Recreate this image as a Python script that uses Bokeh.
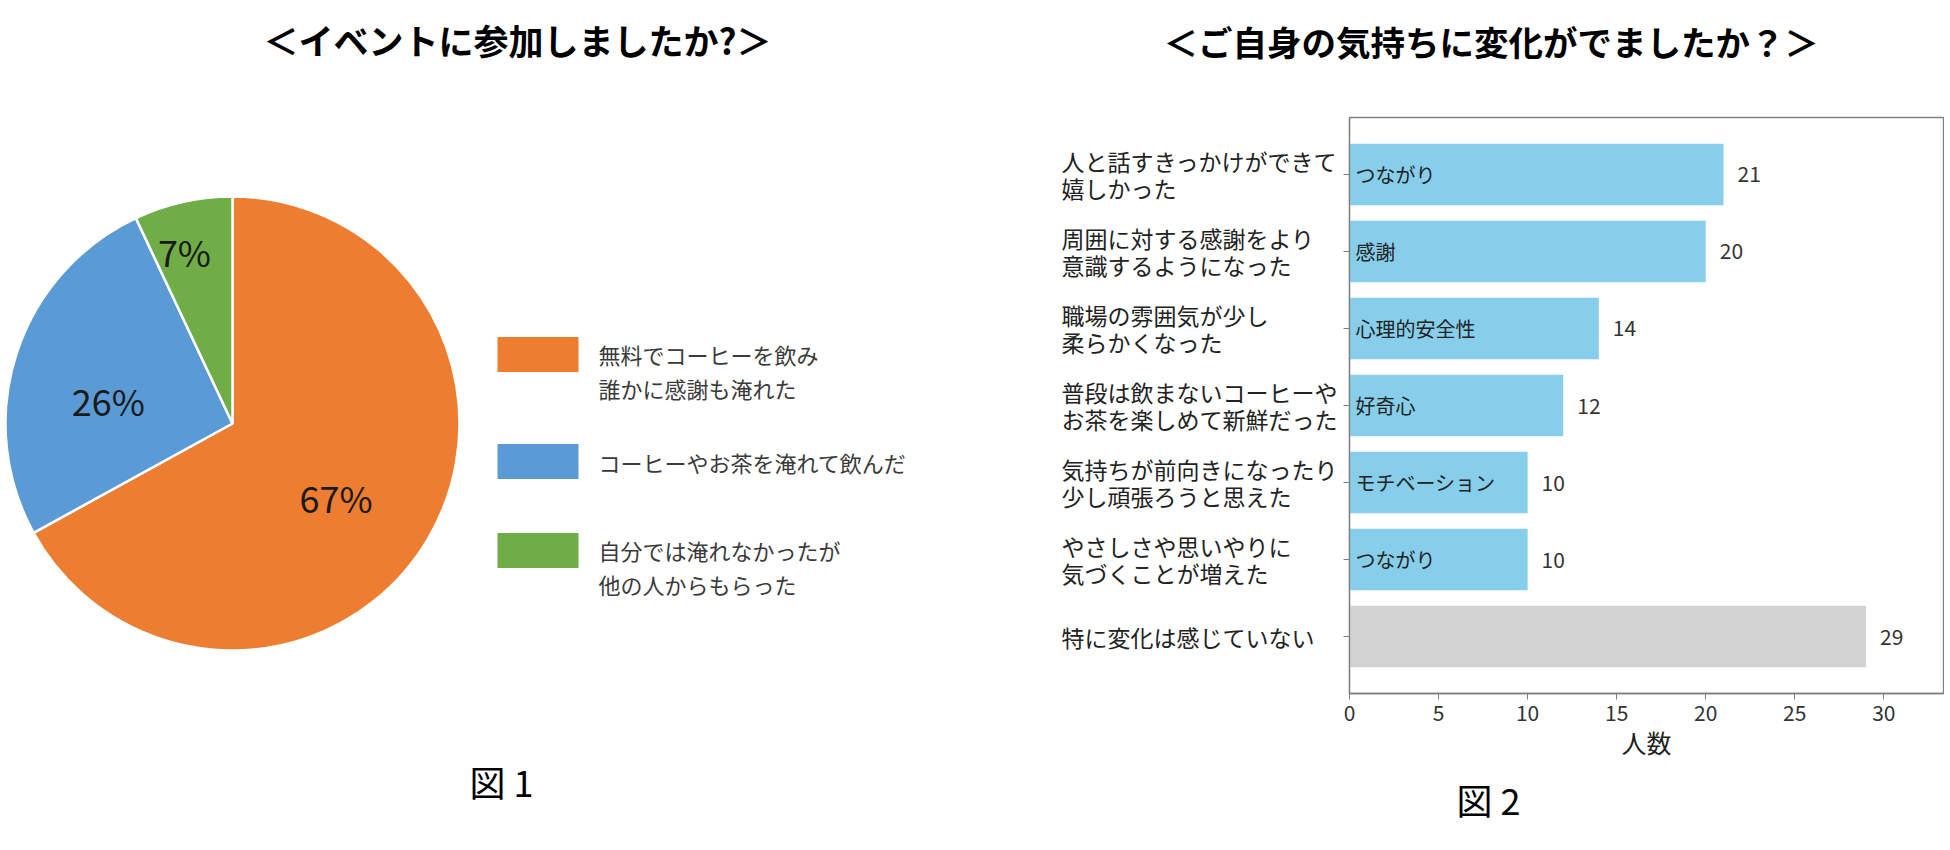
import math
from bokeh.plotting import figure
from bokeh.layouts import row
from bokeh.models import Range1d, ColumnDataSource, FixedTicker, Title
from bokeh.embed import file_html
from bokeh.resources import INLINE
from bokeh.core.properties import value

# ---------------- data ----------------
title_left = "＜イベントに参加しましたか?＞"
title_right = "＜ご自身の気持ちに変化がでましたか？＞"
caption_left = "図 1"
caption_right = "図 2"

pie_labels = ["無料でコーヒーを飲み\n誰かに感謝も淹れた",
              "コーヒーやお茶を淹れて飲んだ",
              "自分では淹れなかったが\n他の人からもらった"]
pie_values = [67, 26, 7]
pie_colors = ["#ED7D31", "#5B9BD5", "#70AD47"]

bar_categories = ["人と話すきっかけができて\n嬉しかった",
                  "周囲に対する感謝をより\n意識するようになった",
                  "職場の雰囲気が少し\n柔らかくなった",
                  "普段は飲まないコーヒーや\nお茶を楽しめて新鮮だった",
                  "気持ちが前向きになったり\n少し頑張ろうと思えた",
                  "やさしさや思いやりに\n気づくことが増えた",
                  "特に変化は感じていない"]
bar_values = [21, 20, 14, 12, 10, 10, 29]
bar_tags = ["つながり", "感謝", "心理的安全性", "好奇心", "モチベーション", "つながり", ""]
bar_colors = ["#87CEEB"] * 6 + ["#D3D3D3"]
x_ticks = [0, 5, 10, 15, 20, 25, 30]
x_label = "人数"

FONT = value("Noto Sans CJK JP")
FONT_NAME = "Noto Sans CJK JP"

H = 842
TOP, BOTTOM = 117, 149  # frame borders shared by both panels (frames are aligned in a row)

# ---------------- left figure: pie ----------------
WA = 1000
pa = figure(width=WA, height=H, x_range=Range1d(0, WA), y_range=Range1d(BOTTOM, H - TOP),
            x_axis_type=None, y_axis_type=None, toolbar_location=None,
            output_backend="svg", min_border_left=0, min_border_right=0,
            min_border_top=TOP, min_border_bottom=BOTTOM, outline_line_color=None)

cx, cy, R = 232, 419, 227
total = sum(pie_values)
cum = 0
starts, ends, mids = [], [], []
for v in pie_values:
    a0 = math.pi / 2 - 2 * math.pi * cum / total
    cum += v
    a1 = math.pi / 2 - 2 * math.pi * cum / total
    starts.append(a1)
    ends.append(a0)
    mids.append((a0 + a1) / 2)

pa.wedge(x=cx, y=cy, radius=R, radius_units="screen", start_angle=starts, end_angle=ends,
         fill_color=pie_colors, line_color="white", line_width=2.5)

# label placement style: radius fraction and small angular nudge (degrees)
label_frac = [0.56, 0.556, 0.787]
label_nudge = [-4.8, 7.5, 3.0]
lx = [cx + f * R * math.cos(m + math.radians(d)) for f, m, d in zip(label_frac, mids, label_nudge)]
ly = [cy + f * R * math.sin(m + math.radians(d)) for f, m, d in zip(label_frac, mids, label_nudge)]
pct = [f"{round(v / total * 100)}%" for v in pie_values]
pa.text(x=lx, y=ly, text=pct, text_align="center", text_baseline="middle",
        text_font=FONT, text_font_size="36px", text_color="#1a1a1a")

legend_x, legend_ys = 537.5, [488, 381, 292]
pa.rect(x=legend_x, y=legend_ys, width=81, height=35, width_units="screen", height_units="screen",
        fill_color=pie_colors, line_color=None)
nlines = [s.count("\n") for s in pie_labels]
pa.text(x=598, y=legend_ys, text=pie_labels, y_offset=[k * 16.5 for k in nlines],
        text_align="left", text_baseline="middle", text_font=FONT, text_font_size="22px",
        text_color="#3a3a3a", text_line_height=1.04)

# titles: an empty extra line lifts the text within the fixed border
pa.title.text = title_left + "\n"
pa.title.align = "left"
pa.title.offset = 263
pa.title.standoff = 4
pa.title.text_line_height = 1.0
pa.title.text_font = FONT_NAME
pa.title.text_font_size = "35px"
pa.title.text_font_style = "bold"
pa.title.text_color = "#000000"
pa.add_layout(Title(text="\n" + caption_left, align="left", offset=469, standoff=14,
                    text_line_height=1.0, text_font=FONT_NAME, text_font_size="36px",
                    text_font_style="normal", text_color="#000000"), "below")

# ---------------- right figure: bars ----------------
WB = 944
n = len(bar_values)
ys = list(range(n - 1, -1, -1))
x_max = max(bar_values) * 1.15
y_lo, y_hi = -0.74, n - 1 + 0.74
pb = figure(width=WB, height=H, x_range=Range1d(0, x_max), y_range=Range1d(y_lo, y_hi),
            toolbar_location=None, output_backend="svg",
            min_border_left=349, min_border_right=1, min_border_top=TOP, min_border_bottom=BOTTOM)
pb.xgrid.visible = False
pb.ygrid.visible = False
pb.outline_line_color = "#7f7f7f"
pb.outline_line_width = 1.3

src = ColumnDataSource(dict(y=ys, v=bar_values, vtxt=[str(v) for v in bar_values], tag=bar_tags,
                            color=bar_colors, zero=[0] * n))
pb.hbar(y="y", left=0, right="v", height=0.8, fill_color="color", line_color=None, source=src)

pb.text(x="zero", y="y", text="tag", x_offset=6, text_align="left", text_baseline="middle",
        text_font=FONT, text_font_size="20px", text_color="#222222", source=src)
pb.text(x="v", y="y", text="vtxt", x_offset=14, text_align="left",
        text_baseline="middle", text_font=FONT, text_font_size="21px", text_color="#333333",
        source=src)

# category labels as y tick labels; lines padded with ideographic spaces so that the
# right-aligned tick labels read as a left-aligned block
width_chars = max(len(line) for c in bar_categories for line in c.split("\n"))
padded = ["\n".join(line + "\u3000" * (width_chars - len(line)) for line in c.split("\n"))
          for c in bar_categories]

pb.xaxis.ticker = FixedTicker(ticks=x_ticks)
pb.yaxis.ticker = FixedTicker(ticks=ys)
pb.yaxis.major_label_overrides = {y: lab for y, lab in zip(ys, padded)}
pb.yaxis.major_label_text_font = FONT_NAME
pb.yaxis.major_label_text_font_size = "23px"
pb.yaxis.major_label_text_color = "#222222"
pb.yaxis.major_label_text_line_height = 0.81
pb.yaxis.major_label_standoff = 6
for ax in (pb.xaxis, pb.yaxis):
    ax.minor_tick_line_color = None
    ax.axis_line_color = "#7f7f7f"
    ax.axis_line_width = 1.3
    ax.major_tick_line_color = "#7f7f7f"
    ax.major_tick_in = 0
    ax.major_tick_out = 6
pb.xaxis.major_label_text_font = FONT_NAME
pb.xaxis.major_label_text_font_size = "21px"
pb.xaxis.major_label_text_color = "#333333"
pb.xaxis.major_label_standoff = 5
pb.xaxis.axis_label = x_label
pb.xaxis.axis_label_text_font = FONT_NAME
pb.xaxis.axis_label_text_font_size = "25px"
pb.xaxis.axis_label_text_font_style = "normal"
pb.xaxis.axis_label_text_color = "#222222"
pb.xaxis.axis_label_standoff = 0

pb.title.text = title_right + "\n"
pb.title.align = "left"
pb.title.offset = 1163 - 1349
pb.title.standoff = 4
pb.title.text_line_height = 1.0
pb.title.text_font = FONT_NAME
pb.title.text_font_size = "34.5px"
pb.title.text_font_style = "bold"
pb.title.text_color = "#000000"
pb.add_layout(Title(text=caption_right, align="left", offset=107, standoff=17,
                    text_font=FONT_NAME, text_font_size="36px", text_font_style="normal",
                    text_color="#000000"), "below")

layout = row(pa, pb)
open("out.html", "w").write(file_html(layout, INLINE))
